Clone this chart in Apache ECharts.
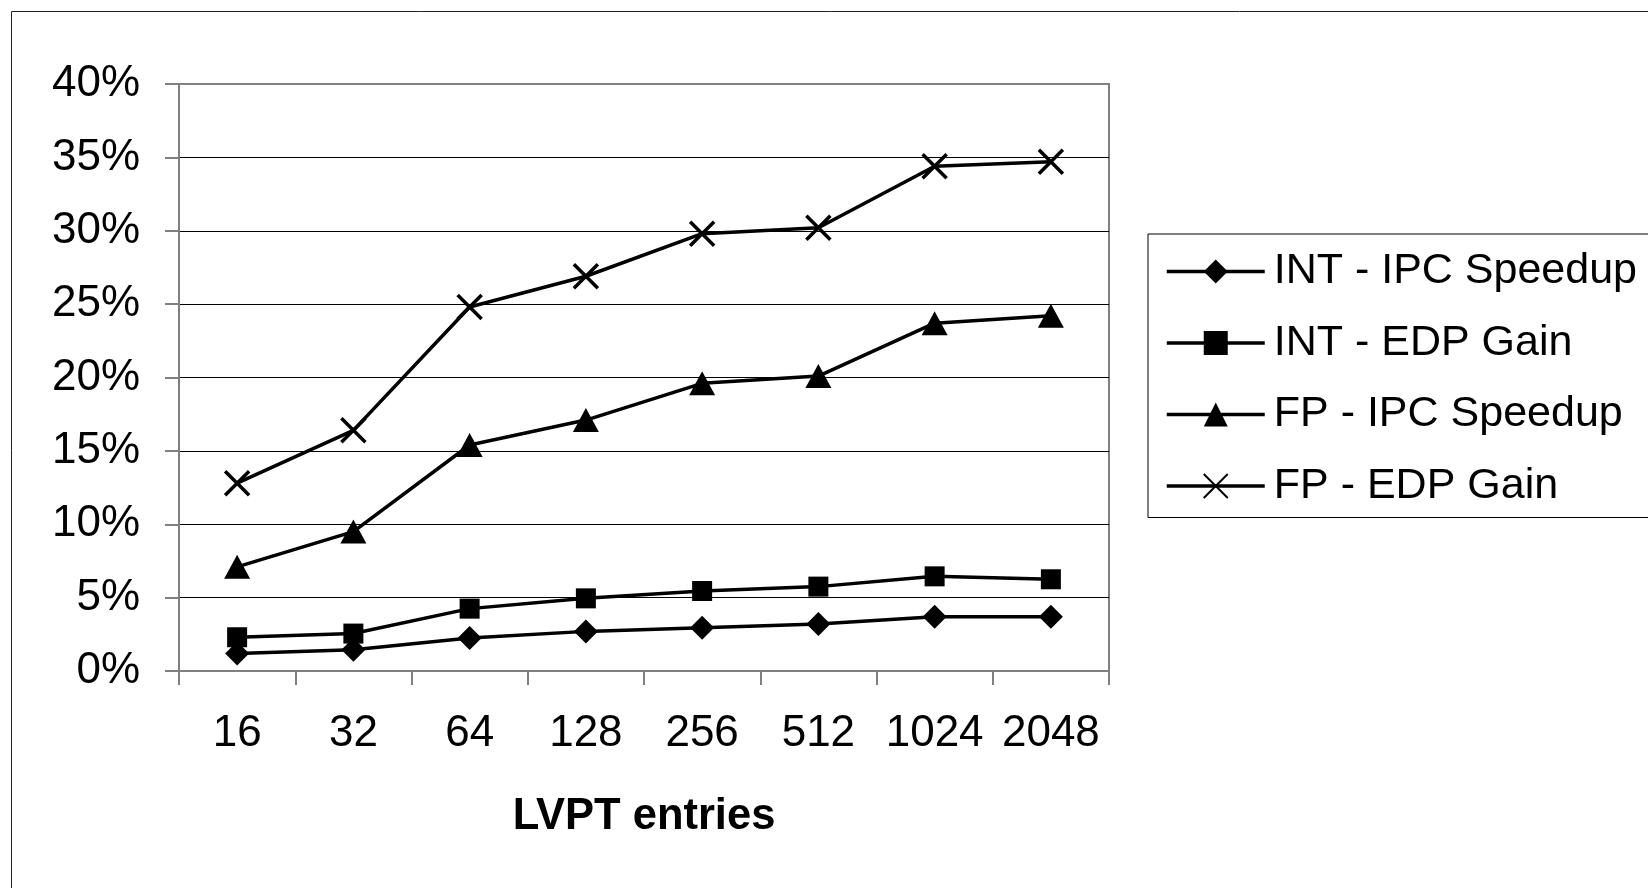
<!DOCTYPE html>
<html>
<head>
<meta charset="utf-8">
<script src="https://cdn.jsdelivr.net/npm/echarts@6/dist/echarts.min.js"></script>
<style>
html,body{margin:0;padding:0;background:#fff;}
#chart{width:1648px;height:888px;}
</style>
</head>
<body>
<div id="chart"></div>
<script>
var categories = ['16', '32', '64', '128', '256', '512', '1024', '2048'];
var intIpcSpeedup = [1.2, 1.45, 2.25, 2.7, 2.95, 3.2, 3.7, 3.7];
var intEdpGain = [2.3, 2.55, 4.25, 4.95, 5.45, 5.75, 6.45, 6.25];
var fpIpcSpeedup = [7.1, 9.5, 15.4, 17.1, 19.6, 20.1, 23.7, 24.2];
var fpEdpGain = [12.8, 16.4, 24.8, 26.9, 29.8, 30.2, 34.4, 34.7];
var seriesNames = ['INT - IPC Speedup', 'INT - EDP Gain', 'FP - IPC Speedup', 'FP - EDP Gain'];
var yTicks = [0, 5, 10, 15, 20, 25, 30, 35, 40];

var FONT = 'Liberation Sans';
var chart = echarts.init(document.getElementById('chart'), null, {renderer: 'canvas'});

function lineSeries(name, data, symbol, size, extra) {
  var s = {
    name: name,
    type: 'line',
    data: data,
    symbol: symbol,
    symbolSize: size,
    showAllSymbol: true,
    animation: false,
    lineStyle: {color: '#000', width: 3.5},
    itemStyle: {color: '#000'},
    emphasis: {disabled: true}
  };
  if (extra) { for (var k in extra) s[k] = extra[k]; }
  return s;
}

var option = {
  animation: false,
  backgroundColor: '#fff',
  textStyle: {fontFamily: FONT, color: '#000'},
  graphic: [{
    type: 'rect',
    left: 9, top: 9,
    shape: {width: 1700, height: 1000},
    style: {fill: 'none', stroke: '#222', lineWidth: 1},
    silent: true
  }],
  grid: {
    left: 179, right: 539, top: 84, bottom: 217,
    show: true, borderColor: '#808080', borderWidth: 2, backgroundColor: 'transparent'
  },
  legend: {
    orient: 'vertical',
    left: 1148, top: 234,
    padding: [16, 60, 10, 17],
    itemWidth: 98, itemHeight: 30, itemGap: 28.5,
    borderColor: '#000', borderWidth: 1,
    selectedMode: false,
    data: seriesNames,
    lineStyle: {width: 3.5, color: '#000'},
    textStyle: {fontFamily: FONT, fontSize: 43, color: '#000', padding: [0, 0, 0, 4]}
  },
  xAxis: {
    type: 'category',
    data: categories,
    boundaryGap: true,
    name: 'LVPT entries',
    nameLocation: 'middle',
    nameGap: 124,
    nameTextStyle: {fontFamily: FONT, fontSize: 43.5, fontWeight: 'bold', color: '#000'},
    axisLine: {lineStyle: {color: '#808080', width: 2}},
    axisTick: {show: true, alignWithLabel: false, length: 14, lineStyle: {color: '#808080', width: 2}},
    axisLabel: {fontFamily: FONT, fontSize: 44, color: '#000', margin: 41, interval: 0},
    splitLine: {show: false}
  },
  yAxis: {
    type: 'value',
    min: yTicks[0], max: yTicks[yTicks.length - 1], interval: 5,
    axisLine: {show: true, lineStyle: {color: '#808080', width: 2}},
    axisTick: {show: true, length: 14, lineStyle: {color: '#808080', width: 2}},
    axisLabel: {fontFamily: FONT, fontSize: 44, color: '#000', margin: 39, formatter: '{value}%'},
    splitLine: {show: true, showMinLine: false, showMaxLine: false, lineStyle: {color: '#000', width: 1}}
  },
  series: [
    lineSeries(seriesNames[0], intIpcSpeedup, 'diamond', 24),
    lineSeries(seriesNames[1], intEdpGain, 'rect', 20),
    lineSeries(seriesNames[2], fpIpcSpeedup, 'triangle', [26, 24]),
    lineSeries(seriesNames[3], fpEdpGain, 'path://M0,0 L10,10 M10,0 L0,10', 24, {
      itemStyle: {color: 'none', borderColor: '#000', borderWidth: 3.5}
    })
  ]
};
chart.setOption(option);
</script>
</body>
</html>
